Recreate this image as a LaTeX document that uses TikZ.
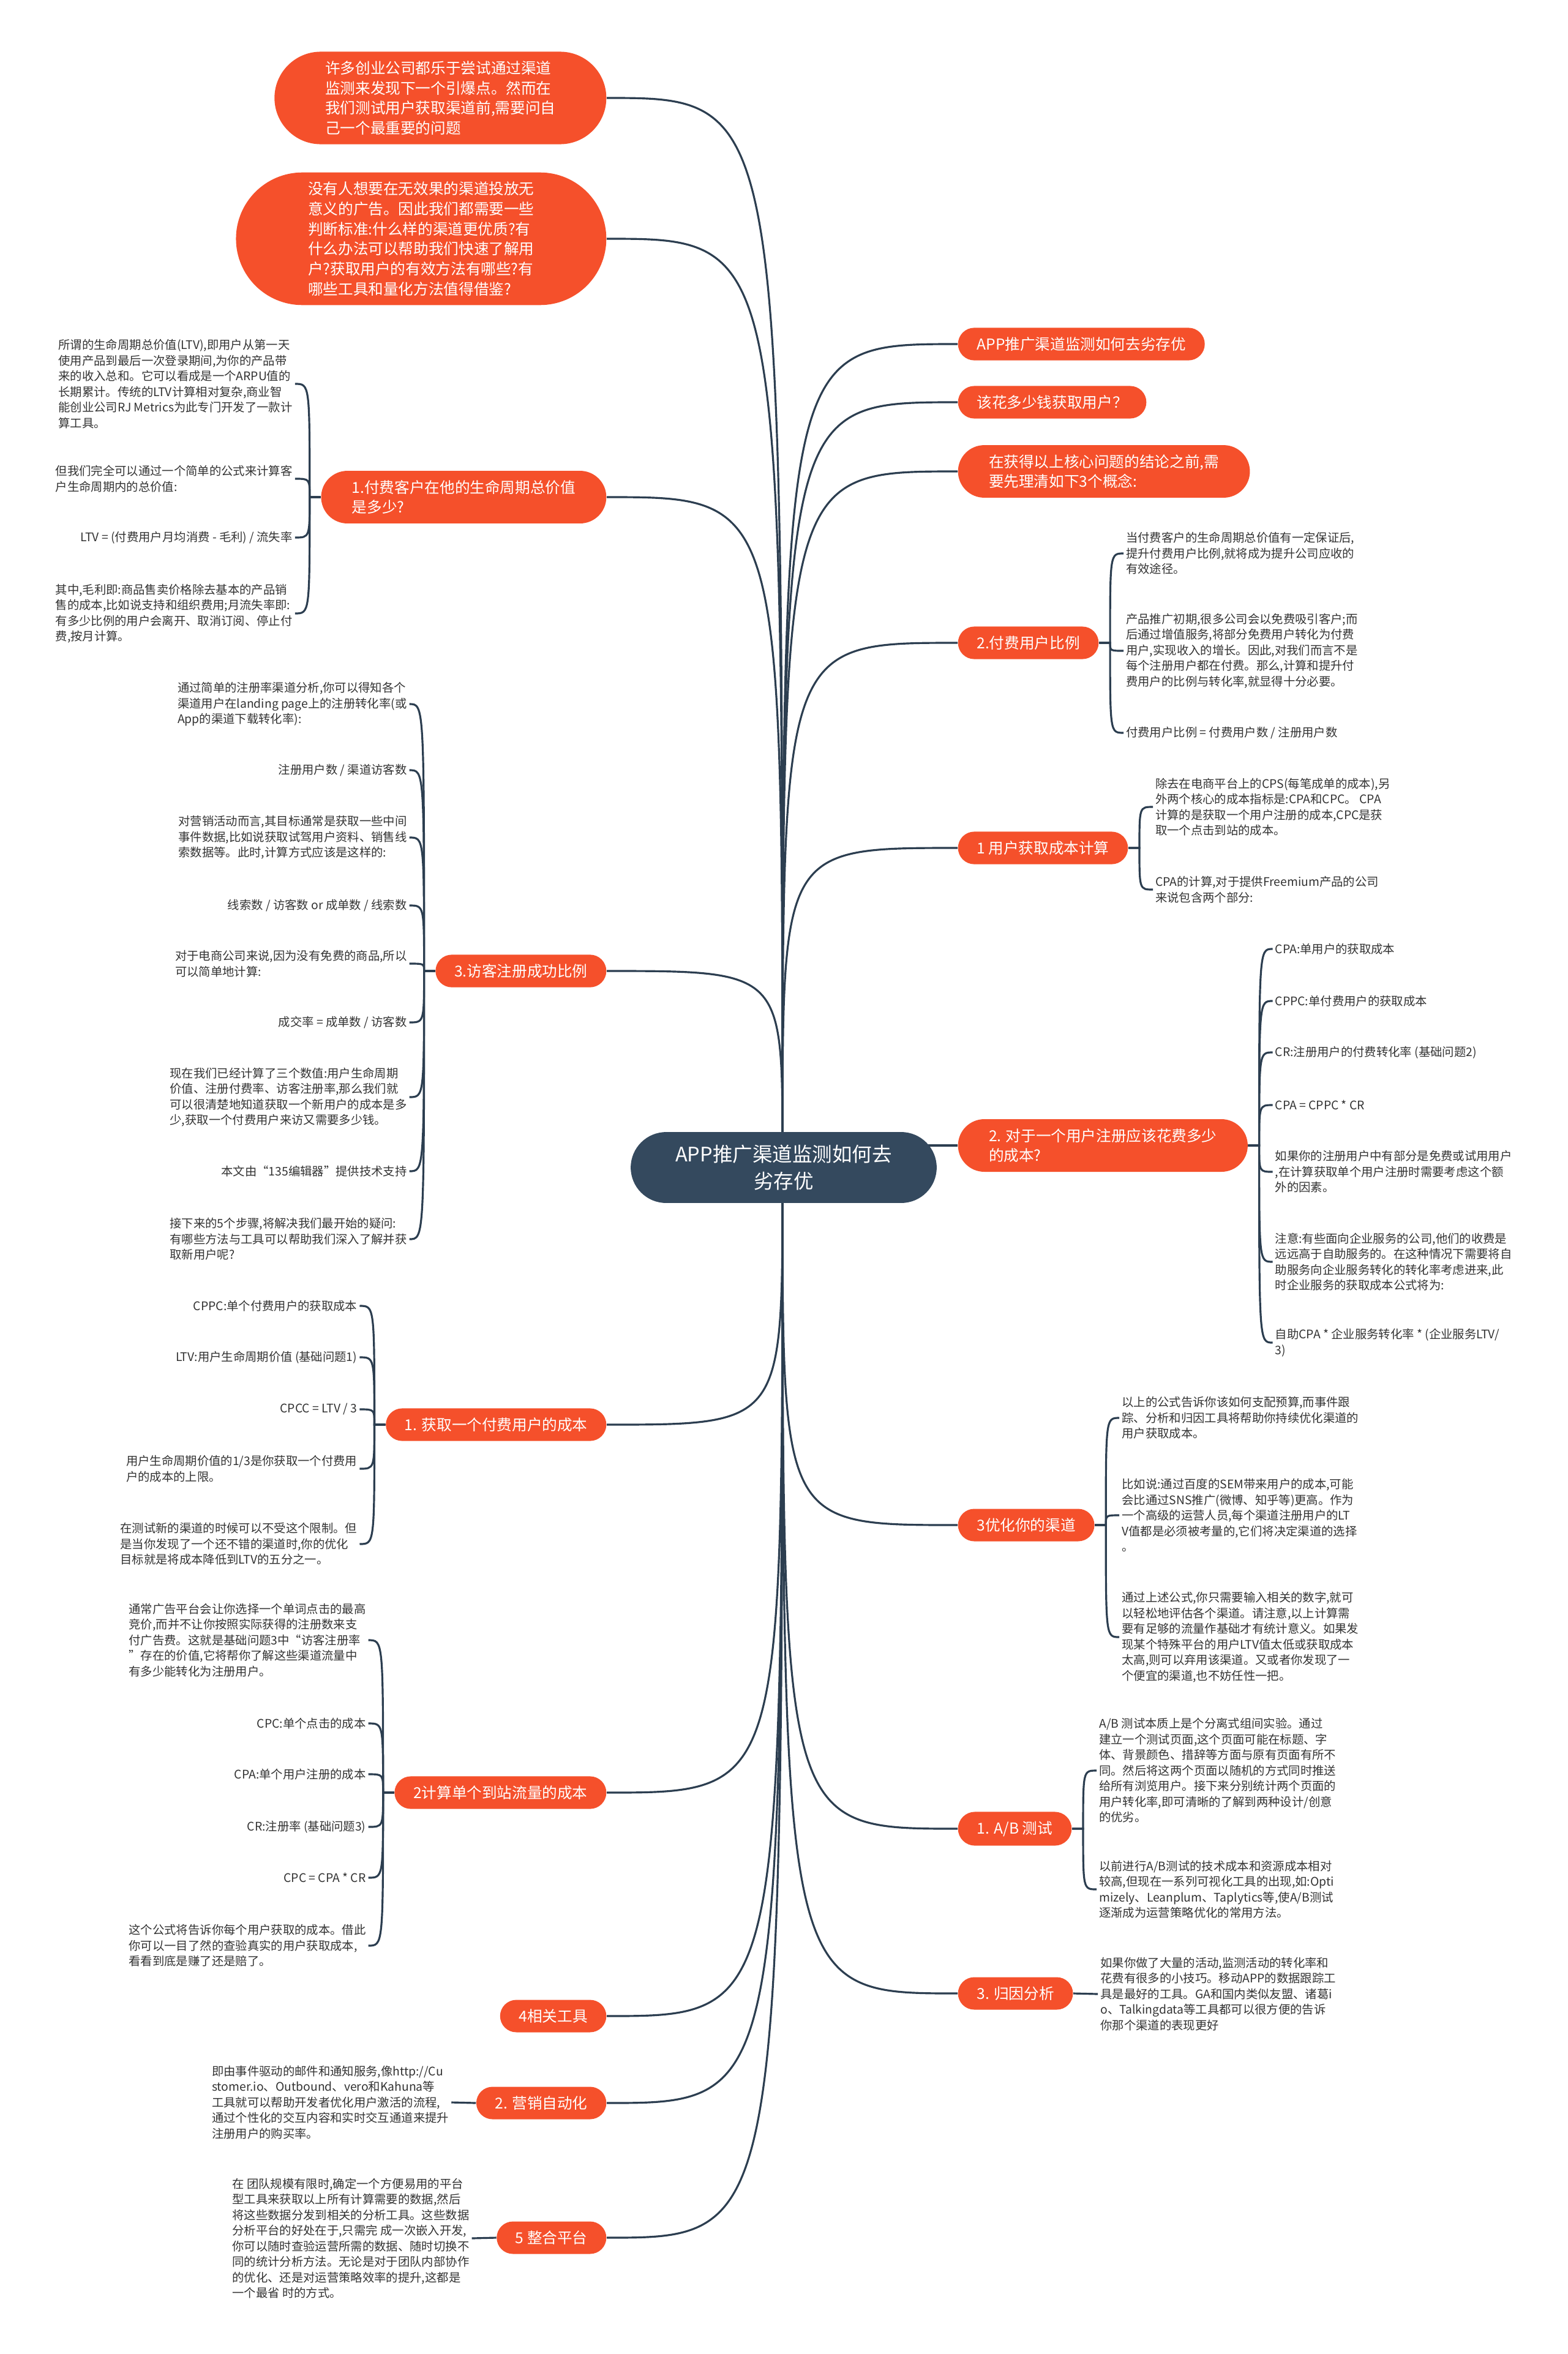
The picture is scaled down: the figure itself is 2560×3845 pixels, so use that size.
\documentclass[tikz,border=0pt]{standalone}
\usepackage{fontspec}
\setmainfont{Noto Sans CJK SC}
\usetikzlibrary{positioning,calc,shapes.misc,backgrounds}
\definecolor{mmorange}{HTML}{F5502B}
\definecolor{mmslate}{HTML}{34495E}
\definecolor{mmline}{HTML}{2C3E50}
\definecolor{mmtext}{HTML}{333333}
\pgfdeclarelayer{paper}
\pgfsetlayers{paper,background,main}

\begin{document}
\begin{tikzpicture}[x=0.01cm, y=-0.01cm,
    root/.style={rounded rectangle, fill=mmslate, text=white, align=center, inner xsep=17pt, inner ysep=6pt, font=\fontsize{9.25}{12.4}\selectfont},
    topic/.style={rounded rectangle, fill=mmorange, text=white, align=left, inner xsep=8pt, inner ysep=4.3pt, font=\fontsize{7}{9.3}\selectfont},
    topic2/.style={topic, inner xsep=11.4pt},
    topic4/.style={topic, inner xsep=15pt},
    topic6/.style={topic, inner xsep=18.4pt},
    note/.style={text=mmtext, align=left, inner sep=1pt, font=\fontsize{5.5}{7.25}\selectfont},
    link/.style={draw=mmline, line width=0.9pt},
    rlink/.style={to path={.. controls (\tikztostart |- \tikztotarget) and (\tikztostart |- \tikztotarget) .. (\tikztotarget)}},
    lbr/.style={to path={-- ++(-18,0) coordinate (brk) .. controls (brk |- \tikztotarget) and (brk |- \tikztotarget) .. (\tikztotarget)}},
    rbr/.style={to path={-- ++(18,0) coordinate (brk) .. controls (brk |- \tikztotarget) and (brk |- \tikztotarget) .. (\tikztotarget)}}
  ]
  \useasboundingbox (0,0) rectangle (2560,3845);
  \begin{pgfonlayer}{paper}
    \fill[white] (0,0) rectangle (2560,3845);
  \end{pgfonlayer}

  % centre
  \node[root] (root) at (1280,1907) {APP推广渠道监测如何去\\劣存优};
  \coordinate (rtop) at (1278,1880);
  \coordinate (rbot) at (1278,1935);

  % left topics
  \node[topic4, anchor=east] (L1) at (991,160) {许多创业公司都乐于尝试通过渠道\\监测来发现下一个引爆点。然而在\\我们测试用户获取渠道前,需要问自\\己一个最重要的问题};
  \node[topic6, anchor=east] (L2) at (991,390) {没有人想要在无效果的渠道投放无\\意义的广告。因此我们都需要一些\\判断标准:什么样的渠道更优质?有\\什么办法可以帮助我们快速了解用\\户?获取用户的有效方法有哪些?有\\哪些工具和量化方法值得借鉴?};
  \node[topic2, anchor=east] (L3) at (991,812) {1.付费客户在他的生命周期总价值\\是多少?};
  \node[topic, anchor=east] (L4) at (991,1586) {3.访客注册成功比例};
  \node[topic, anchor=east] (L5) at (991,2327) {1. 获取一个付费用户的成本};
  \node[topic, anchor=east] (L6) at (991,2928) {2计算单个到站流量的成本};
  \node[topic, anchor=east] (L7) at (991,3293) {4相关工具};
  \node[topic, anchor=east] (L8) at (991,3435) {2. 营销自动化};
  \node[topic, anchor=east] (L9) at (991,3655) {5 整合平台};

  % right topics
  \node[topic, anchor=west] (R1) at (1564,562) {APP推广渠道监测如何去劣存优};
  \node[topic, anchor=west] (R2) at (1564,657) {该花多少钱获取用户？};
  \node[topic2, anchor=west] (R3) at (1564,770) {在获得以上核心问题的结论之前,需\\要先理清如下3个概念:};
  \node[topic, anchor=west] (R4) at (1564,1050) {2.付费用户比例};
  \node[topic, anchor=west] (R5) at (1564,1385) {1 用户获取成本计算};
  \node[topic2, anchor=west] (R6) at (1564,1871) {2. 对于一个用户注册应该花费多少\\的成本?};
  \node[topic, anchor=west] (R7) at (1564,2491) {3优化你的渠道};
  \node[topic, anchor=west] (R8) at (1564,2987) {1. A/B 测试};
  \node[topic, anchor=west] (R9) at (1564,3256) {3. 归因分析};

  % notes of L3
  \node[note, anchor=east] (L3a) at ($(L3.west |- 0,627)+(-42,0)$) {所谓的生命周期总价值(LTV),即用户从第一天\\使用产品到最后一次登录期间,为你的产品带\\来的收入总和。它可以看成是一个ARPU值的\\长期累计。传统的LTV计算相对复杂,商业智\\能创业公司RJ Metrics为此专门开发了一款计\\算工具。};
  \node[note, anchor=east] (L3b) at ($(L3.west |- 0,782)+(-42,0)$) {但我们完全可以通过一个简单的公式来计算客\\户生命周期内的总价值:};
  \node[note, anchor=east] (L3c) at ($(L3.west |- 0,878)+(-42,0)$) {LTV = (付费用户月均消费 - 毛利) / 流失率};
  \node[note, anchor=east] (L3d) at ($(L3.west |- 0,1002)+(-42,0)$) {其中,毛利即:商品售卖价格除去基本的产品销\\售的成本,比如说支持和组织费用;月流失率即:\\有多少比例的用户会离开、取消订阅、停止付\\费,按月计算。};

  % notes of L4
  \node[note, anchor=east] (L4a) at ($(L4.west |- 0,1150)+(-42,0)$) {通过简单的注册率渠道分析,你可以得知各个\\渠道用户在landing page上的注册转化率(或\\App的渠道下载转化率):};
  \node[note, anchor=east] (L4b) at ($(L4.west |- 0,1258)+(-42,0)$) {注册用户数 / 渠道访客数};
  \node[note, anchor=east] (L4c) at ($(L4.west |- 0,1368)+(-42,0)$) {对营销活动而言,其目标通常是获取一些中间\\事件数据,比如说获取试驾用户资料、销售线\\索数据等。此时,计算方式应该是这样的:};
  \node[note, anchor=east] (L4d) at ($(L4.west |- 0,1479)+(-42,0)$) {线索数 / 访客数 or 成单数 / 线索数};
  \node[note, anchor=east] (L4e) at ($(L4.west |- 0,1574)+(-42,0)$) {对于电商公司来说,因为没有免费的商品,所以\\可以简单地计算:};
  \node[note, anchor=east] (L4f) at ($(L4.west |- 0,1670)+(-42,0)$) {成交率 = 成单数 / 访客数};
  \node[note, anchor=east] (L4g) at ($(L4.west |- 0,1792)+(-42,0)$) {现在我们已经计算了三个数值:用户生命周期\\价值、注册付费率、访客注册率,那么我们就\\可以很清楚地知道获取一个新用户的成本是多\\少,获取一个付费用户来访又需要多少钱。};
  \node[note, anchor=east] (L4h) at ($(L4.west |- 0,1913)+(-42,0)$) {本文由“135编辑器”提供技术支持};
  \node[note, anchor=east] (L4i) at ($(L4.west |- 0,2024)+(-42,0)$) {接下来的5个步骤,将解决我们最开始的疑问:\\有哪些方法与工具可以帮助我们深入了解并获\\取新用户呢?};

  % notes of L5
  \node[note, anchor=east] (L5a) at ($(L5.west |- 0,2133)+(-42,0)$) {CPPC:单个付费用户的获取成本};
  \node[note, anchor=east] (L5b) at ($(L5.west |- 0,2217)+(-42,0)$) {LTV:用户生命周期价值 (基础问题1)};
  \node[note, anchor=east] (L5c) at ($(L5.west |- 0,2302)+(-42,0)$) {CPCC = LTV / 3};
  \node[note, anchor=east] (L5d) at ($(L5.west |- 0,2399)+(-42,0)$) {用户生命周期价值的1/3是你获取一个付费用\\户的成本的上限。};
  \node[note, anchor=east] (L5e) at ($(L5.west |- 0,2522)+(-42,0)$) {在测试新的渠道的时候可以不受这个限制。但\\是当你发现了一个还不错的渠道时,你的优化\\目标就是将成本降低到LTV的五分之一。};

  % notes of L6
  \node[note, anchor=east] (L6a) at ($(L6.west |- 0,2679)+(-42,0)$) {通常广告平台会让你选择一个单词点击的最高\\竞价,而并不让你按照实际获得的注册数来支\\付广告费。这就是基础问题3中“访客注册率\\”存在的价值,它将帮你了解这些渠道流量中\\有多少能转化为注册用户。};
  \node[note, anchor=east] (L6b) at ($(L6.west |- 0,2815)+(-42,0)$) {CPC:单个点击的成本};
  \node[note, anchor=east] (L6c) at ($(L6.west |- 0,2898)+(-42,0)$) {CPA:单个用户注册的成本};
  \node[note, anchor=east] (L6d) at ($(L6.west |- 0,2984)+(-42,0)$) {CR:注册率 (基础问题3)};
  \node[note, anchor=east] (L6e) at ($(L6.west |- 0,3067)+(-42,0)$) {CPC = CPA * CR};
  \node[note, anchor=east] (L6f) at ($(L6.west |- 0,3178)+(-42,0)$) {这个公式将告诉你每个用户获取的成本。借此\\你可以一目了然的查验真实的用户获取成本,\\看看到底是赚了还是赔了。};

  % notes of L8, L9
  \node[note, anchor=east] (L8a) at ($(L8.west |- 0,3434)+(-40,0)$) {即由事件驱动的邮件和通知服务,像http://Cu\\stomer.io、Outbound、vero和Kahuna等\\工具就可以帮助开发者优化用户激活的流程,\\通过个性化的交互内容和实时交互通道来提升\\注册用户的购买率。};
  \node[note, anchor=east] (L9a) at ($(L9.west |- 0,3656)+(-40,0)$) {在 团队规模有限时,确定一个方便易用的平台\\型工具来获取以上所有计算需要的数据,然后\\将这些数据分发到相关的分析工具。这些数据\\分析平台的好处在于,只需完 成一次嵌入开发,\\你可以随时查验运营所需的数据、随时切换不\\同的统计分析方法。无论是对于团队内部协作\\的优化、还是对运营策略效率的提升,这都是\\一个最省 时的方式。};

  % notes of R4
  \node[note, anchor=west] (R4a) at ($(R4.east |- 0,904)+(40,0)$) {当付费客户的生命周期总价值有一定保证后,\\提升付费用户比例,就将成为提升公司应收的\\有效途径。};
  \node[note, anchor=west] (R4b) at ($(R4.east |- 0,1063)+(40,0)$) {产品推广初期,很多公司会以免费吸引客户;而\\后通过增值服务,将部分免费用户转化为付费\\用户,实现收入的增长。因此,对我们而言不是\\每个注册用户都在付费。那么,计算和提升付\\费用户的比例与转化率,就显得十分必要。};
  \node[note, anchor=west] (R4c) at ($(R4.east |- 0,1197)+(40,0)$) {付费用户比例 = 付费用户数 / 注册用户数};

  % notes of R5
  \node[note, anchor=west] (R5a) at ($(R5.east |- 0,1318)+(40,0)$) {除去在电商平台上的CPS(每笔成单的成本),另\\外两个核心的成本指标是:CPA和CPC。 CPA\\计算的是获取一个用户注册的成本,CPC是获\\取一个点击到站的成本。};
  \node[note, anchor=west] (R5b) at ($(R5.east |- 0,1453)+(40,0)$) {CPA的计算,对于提供Freemium产品的公司\\来说包含两个部分:};

  % notes of R6
  \node[note, anchor=west] (R6a) at ($(R6.east |- 0,1550)+(40,0)$) {CPA:单用户的获取成本};
  \node[note, anchor=west] (R6b) at ($(R6.east |- 0,1635)+(40,0)$) {CPPC:单付费用户的获取成本};
  \node[note, anchor=west] (R6c) at ($(R6.east |- 0,1719)+(40,0)$) {CR:注册用户的付费转化率 (基础问题2)};
  \node[note, anchor=west] (R6d) at ($(R6.east |- 0,1805)+(40,0)$) {CPA = CPPC * CR};
  \node[note, anchor=west] (R6e) at ($(R6.east |- 0,1914)+(40,0)$) {如果你的注册用户中有部分是免费或试用用户\\,在计算获取单个用户注册时需要考虑这个额\\外的因素。};
  \node[note, anchor=west] (R6f) at ($(R6.east |- 0,2061)+(40,0)$) {注意:有些面向企业服务的公司,他们的收费是\\远远高于自助服务的。在这种情况下需要将自\\助服务向企业服务转化的转化率考虑进来,此\\时企业服务的获取成本公式将为:};
  \node[note, anchor=west] (R6g) at ($(R6.east |- 0,2193)+(40,0)$) {自助CPA * 企业服务转化率 * (企业服务LTV/\\3)};

  % notes of R7
  \node[note, anchor=west] (R7a) at ($(R7.east |- 0,2316)+(40,0)$) {以上的公式告诉你该如何支配预算,而事件跟\\踪、分析和归因工具将帮助你持续优化渠道的\\用户获取成本。};
  \node[note, anchor=west] (R7b) at ($(R7.east |- 0,2475)+(40,0)$) {比如说:通过百度的SEM带来用户的成本,可能\\会比通过SNS推广(微博、知乎等)更高。作为\\一个高级的运营人员,每个渠道注册用户的LT\\V值都是必须被考量的,它们将决定渠道的选择\\。};
  \node[note, anchor=west] (R7c) at ($(R7.east |- 0,2674)+(40,0)$) {通过上述公式,你只需要输入相关的数字,就可\\以轻松地评估各个渠道。请注意,以上计算需\\要有足够的流量作基础才有统计意义。如果发\\现某个特殊平台的用户LTV值太低或获取成本\\太高,则可以弃用该渠道。又或者你发现了一\\个便宜的渠道,也不妨任性一把。};

  % notes of R8, R9
  \node[note, anchor=west] (R8a) at ($(R8.east |- 0,2892)+(40,0)$) {A/B 测试本质上是个分离式组间实验。通过\\建立一个测试页面,这个页面可能在标题、字\\体、背景颜色、措辞等方面与原有页面有所不\\同。然后将这两个页面以随机的方式同时推送\\给所有浏览用户。接下来分别统计两个页面的\\用户转化率,即可清晰的了解到两种设计/创意\\的优劣。};
  \node[note, anchor=west] (R8b) at ($(R8.east |- 0,3086)+(40,0)$) {以前进行A/B测试的技术成本和资源成本相对\\较高,但现在一系列可视化工具的出现,如:Opti\\mizely、Leanplum、Taplytics等,使A/B测试\\逐渐成为运营策略优化的常用方法。};
  \node[note, anchor=west] (R9a) at ($(R9.east |- 0,3257)+(40,0)$) {如果你做了大量的活动,监测活动的转化率和\\花费有很多的小技巧。移动APP的数据跟踪工\\具是最好的工具。GA和国内类似友盟、诸葛i\\o、Talkingdata等工具都可以很方便的告诉\\你那个渠道的表现更好};

  % connectors
  \begin{scope}[on background layer]
    \foreach \n in {L1,L2,L3,L4} \draw[link] (rtop) to[rlink] (\n.east);
    \foreach \n in {R1,R2,R3,R4,R5} \draw[link] (rtop) to[rlink] (\n.west);
    \foreach \n in {L5,L6,L7,L8,L9} \draw[link] (rbot) to[rlink] (\n.east);
    \foreach \n in {R7,R8,R9} \draw[link] (rbot) to[rlink] (\n.west);
    \draw[link] (root.center |- R6.west) -- (R6.west);

    \foreach \c in {a,...,d} \draw[link] (L3.west) to[lbr] (L3\c.east);
    \foreach \c in {a,...,i} \draw[link] (L4.west) to[lbr] (L4\c.east);
    \foreach \c in {a,...,e} \draw[link] (L5.west) to[lbr] (L5\c.east);
    \foreach \c in {a,...,f} \draw[link] (L6.west) to[lbr] (L6\c.east);
    \draw[link] (L8.west) -- (L8a.east);
    \draw[link] (L9.west) -- (L9a.east);

    \foreach \c in {a,...,c} \draw[link] (R4.east) to[rbr] (R4\c.west);
    \foreach \c in {a,b} \draw[link] (R5.east) to[rbr] (R5\c.west);
    \foreach \c in {a,...,g} \draw[link] (R6.east) to[rbr] (R6\c.west);
    \foreach \c in {a,...,c} \draw[link] (R7.east) to[rbr] (R7\c.west);
    \foreach \c in {a,b} \draw[link] (R8.east) to[rbr] (R8\c.west);
    \draw[link] (R9.east) -- (R9a.west);
  \end{scope}
\end{tikzpicture}
\end{document}
